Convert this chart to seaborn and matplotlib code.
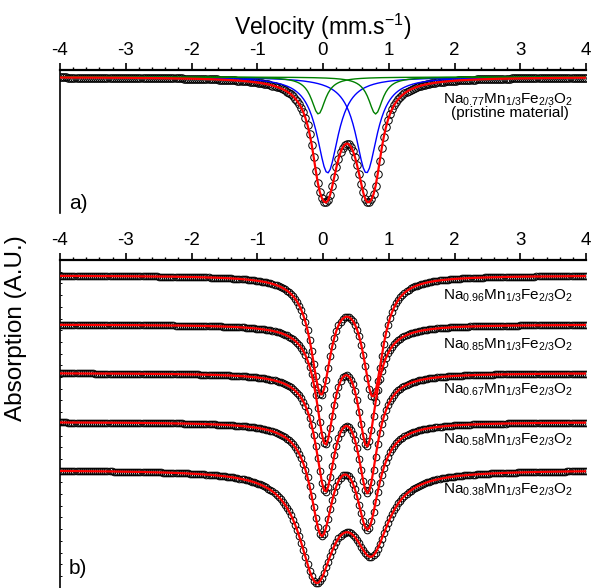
import numpy as np
import pandas as pd
import matplotlib
matplotlib.use('Agg')
import matplotlib.pyplot as plt
import seaborn as sns
from matplotlib.ticker import MultipleLocator, NullLocator

sns.set_theme(style='ticks', rc={
    'text.color': 'black', 'axes.labelcolor': 'black',
    'xtick.color': 'black', 'ytick.color': 'black', 'axes.edgecolor': 'black'})
plt.rcParams['font.family'] = ['Liberation Sans', 'DejaVu Sans']
plt.rcParams['mathtext.fontset'] = 'custom'
plt.rcParams['mathtext.rm'] = 'Liberation Sans'
plt.rcParams['mathtext.it'] = 'Liberation Sans:italic'
plt.rcParams['mathtext.default'] = 'regular'
plt.rcParams['axes.unicode_minus'] = False

# ---------------- data ----------------
velocity_ticks = [-4, -3, -2, -1, 0, 1, 2, 3, 4]
n_channels = 256
velocity = np.linspace(-4, 4, n_channels)

# panel a (pristine Na0.77): individual fitted lines (centres mm/s, HWHM mm/s, depth a.u.)
a_blue_centers = [0.07, 0.66]
a_blue_hwhm = 0.20
a_blue_depth = 96.0
a_green_centers = [-0.07, 0.80]
a_green_hwhm = 0.13
a_green_depth = 37.0
a_label = 'Na$_{0.77}$Mn$_{1/3}$Fe$_{2/3}$O$_{2}$'
a_sublabel = '(pristine material)'

# panel b: desodiated samples, one doublet each
b_na = ['0.96', '0.85', '0.67', '0.58', '0.38']
b_offsets = [-15.5, -64.5, -113.0, -162.0, -210.0]
b_c1 = [-0.03, 0.035, 0.035, -0.02, -0.10]
b_c2 = [0.76, 0.67, 0.68, 0.68, 0.74]
b_d1 = [113.5, 112.6, 110.6, 106.4, 104.2]
b_d2 = [115.5, 114.6, 112.3, 99.2, 74.2]
b_hwhm = [0.185, 0.17, 0.18, 0.205, 0.31]


def lorentz(v, c, g, d):
    return d / (1.0 + ((v - c) / g) ** 2)


# ---------------- figure ----------------
W, H = 593, 588
fig = plt.figure(figsize=(W / 100, H / 100), dpi=100)
x0, x1 = 60, 586
ax_a = fig.add_axes([x0 / W, 1 - 213 / H, (x1 - x0) / W, (213 - 69.5) / H])
ax_b = fig.add_axes([x0 / W, 0, (x1 - x0) / W, (H - 260) / H])

# panel a
blue_lines = [lorentz(velocity, c, a_blue_hwhm, a_blue_depth) for c in a_blue_centers]
green_lines = [lorentz(velocity, c, a_green_hwhm, a_green_depth) for c in a_green_centers]
total = sum(blue_lines) + sum(green_lines)
df_a = pd.DataFrame({'v': velocity, 'total': -total})

sns.lineplot(data=df_a, x='v', y='total', ax=ax_a, marker='o', linestyle='none',
             markerfacecolor='none', markeredgecolor='black', markersize=5.4,
             markeredgewidth=0.7, estimator=None, sort=False, zorder=1)
for line in blue_lines:
    sns.lineplot(x=velocity, y=-line, ax=ax_a, color='#0000ff', lw=1.0,
                 estimator=None, sort=False, zorder=2)
for line in green_lines:
    sns.lineplot(x=velocity, y=-line, ax=ax_a, color='#008000', lw=1.0,
                 estimator=None, sort=False, zorder=2)
sns.lineplot(data=df_a, x='v', y='total', ax=ax_a, color='#ff0000', lw=1.6,
             estimator=None, sort=False, zorder=3)
ax_a.set_ylim(-136, 7.5)
ax_a.text(3.80, -26.3, a_label, ha='right', va='baseline', fontsize=11)
ax_a.text(2.84, -40.5, a_sublabel, ha='center', va='baseline', fontsize=11)
ax_a.text(0.017, 0.0, 'a)', transform=ax_a.transAxes, fontsize=15, va='bottom')

# panel b
label_y = [-40.0, -88.3, -133.3, -183.3, -234.0]
for i, na in enumerate(b_na):
    spec = (lorentz(velocity, b_c1[i], b_hwhm[i], b_d1[i]) +
            lorentz(velocity, b_c2[i], b_hwhm[i], b_d2[i]))
    df = pd.DataFrame({'v': velocity, 'y': b_offsets[i] - spec})
    sns.lineplot(data=df, x='v', y='y', ax=ax_b, marker='o', linestyle='none',
                 markerfacecolor='none', markeredgecolor='black', markersize=4.8,
                 markeredgewidth=0.7, estimator=None, sort=False, zorder=1)
    sns.lineplot(data=df, x='v', y='y', ax=ax_b, color='#ff0000', lw=1.6,
                 estimator=None, sort=False, zorder=3)
    ax_b.text(3.80, label_y[i], f'Na$_{{{na}}}$Mn$_{{1/3}}$Fe$_{{2/3}}$O$_{{2}}$',
              ha='right', va='baseline', fontsize=11)
ax_b.set_ylim(-328, 0)
ax_b.text(0.017, 0.03, 'b)', transform=ax_b.transAxes, fontsize=15, va='bottom')

for ax in (ax_a, ax_b):
    ax.set_xlim(-4, 4)
    ax.set_xticks(velocity_ticks)
    ax.set_xticklabels([str(t) for t in velocity_ticks])
    ax.xaxis.set_minor_locator(MultipleLocator(0.2))
    ax.xaxis.tick_top()
    ax.tick_params(axis='x', which='major', top=True, bottom=False, direction='out',
                   length=4.8, width=1.2, labelsize=13.5, pad=3.0)
    ax.tick_params(axis='x', which='minor', top=True, bottom=False, direction='out',
                   length=2.4, width=1.0)
    ax.yaxis.set_major_locator(NullLocator())
    ax.set_xlabel('')
    ax.set_ylabel('')
    ax.spines['right'].set_visible(False)
    ax.spines['bottom'].set_visible(False)
    ax.spines['top'].set_linewidth(1.6)
    ax.spines['left'].set_linewidth(1.2)
    ax.patch.set_alpha(0)

ax_b.yaxis.set_minor_locator(MultipleLocator(11.7))
ax_b.tick_params(axis='y', which='minor', left=True, direction='in', length=1.5, width=0.7)

ax_a.xaxis.set_label_position('top')
ax_a.set_xlabel('Velocity (mm.s$^{-1}$)', fontsize=16.5, labelpad=5)

fig.text(16 / W, 1 - 328 / H, 'Absorption (A.U.)', rotation=90, ha='center', va='center',
         fontsize=17.5)

fig.savefig('out.png', dpi=100)
